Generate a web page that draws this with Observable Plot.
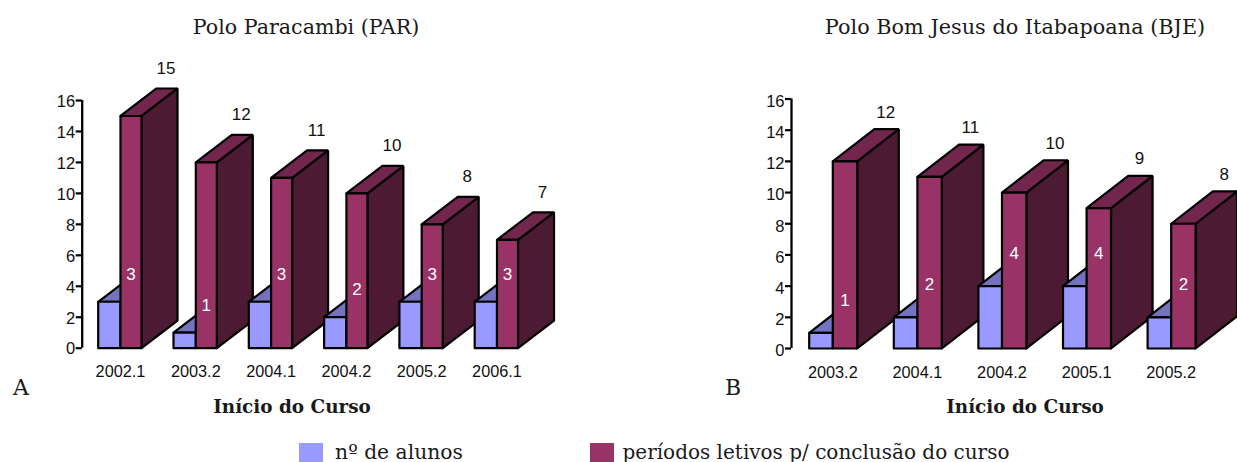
<!DOCTYPE html>
<html><head><meta charset="utf-8">
<script src="https://cdn.jsdelivr.net/npm/d3@7"></script>
<script src="https://cdn.jsdelivr.net/npm/@observablehq/plot@0.6"></script>
<style>
html,body{margin:0;padding:0;background:#fff;width:1237px;height:462px;overflow:hidden;position:relative}
.t{position:absolute;white-space:nowrap;font-family:"DejaVu Serif",serif;color:#1a1a1a;line-height:1;transform:translate(-50%,-50%)}
.p{position:absolute;top:0}
.sw{position:absolute;width:24px;height:20px;top:443px}
svg{background:transparent!important;overflow:visible}
</style></head><body>
<div id="root"></div>
<script>
const parCategories = ["2002.1","2003.2","2004.1","2004.2","2005.2","2006.1"];
const parStudents = [3,1,3,2,3,3];
const parPeriods = [15,12,11,10,8,7];
const bjeCategories = ["2003.2","2004.1","2004.2","2005.1","2005.2"];
const bjeStudents = [1,2,4,4,2];
const bjePeriods = [12,11,10,9,8];
const yTicks = [0,2,4,6,8,10,12,14,16];
const colors = {blue:"#9999ff",blueTop:"#7373bf",purple:"#993366",purpleTop:"#73264d",purpleSide:"#4d1a33"};

function panel({cats,students,periods,axisX,firstX,step,blueW,purpleW,depthX,y0,y16,left,width,height,tickDy,valueDy}){
  const unit=(y0-y16)/16;
  const dep=depthX.dy/unit, dx=depthX.dx;
  const bw=blueW, pw=purpleW;
  const faces=[];
  const face=(id,color,pts)=>{[...pts,pts[0]].forEach(([x,y])=>faces.push({id,color,x,y}));};
  cats.forEach((c,i)=>{
    const b=i, m=i+bw, r=i+bw+pw, s=students[i], p=periods[i];
    face(i+"bt",colors.blueTop,[[b,s],[m,s],[m+dx,s+dep],[b+dx,s+dep]]);
    face(i+"ps",colors.purpleSide,[[r,0],[r+dx,dep],[r+dx,p+dep],[r,p]]);
    face(i+"pt",colors.purpleTop,[[m,p],[r,p],[r+dx,p+dep],[m+dx,p+dep]]);
    face(i+"bf",colors.blue,[[b,0],[m,0],[m,s],[b,s]]);
    face(i+"pf",colors.purple,[[m,0],[r,0],[r,p],[m,p]]);
  });
  const dStart=(axisX-left-(firstX-left))/step;
  const dEnd=dStart+(width-(axisX-left))/step;
  const rows=cats.map((c,i)=>({c,i,s:students[i],p:periods[i]}));
  return Plot.plot({
    width,height,
    marginLeft:axisX-left,marginRight:0,marginTop:y16,marginBottom:height-y0,
    style:{background:"transparent",fontFamily:"'Liberation Sans',Arial,sans-serif"},
    x:{domain:[dStart,dEnd],axis:null},
    y:{domain:[0,16],axis:null},
    color:{type:"identity"},
    marks:[
      Plot.ruleX([dStart],{y1:0,y2:16,stroke:"#000",strokeWidth:2.3}),
      Plot.axisY({ticks:yTicks,anchor:"left",tickSize:6,fill:"none",stroke:"#000",strokeWidth:2.2,label:null}),
      Plot.text(yTicks,{x:dStart,y:d=>d,text:d=>String(d),textAnchor:"end",dx:-7,dy:tickDy,fontSize:16.5,fill:"#111"}),
      Plot.line(faces,{x:"x",y:"y",z:"id",fill:"color",stroke:"#000",strokeWidth:2.2,strokeLinejoin:"miter",curve:"linear"}),
      Plot.text(rows,{x:d=>d.i+bw,y:0,text:"c",dy:24,fontSize:16.3,fill:"#111"}),
      Plot.text(rows,{x:d=>d.i+bw+pw/2,y:d=>d.s+dep,text:d=>String(d.s),fontSize:17,fill:"#fff"}),
      Plot.text(rows,{x:d=>d.i+bw+depthX.lab,y:d=>d.p+dep,text:d=>String(d.p),dy:valueDy,fontSize:17,fill:"#111"})
    ]
  });
}
const root=document.getElementById("root");
const a=panel({cats:parCategories,students:parStudents,periods:parPeriods,axisX:81.7,firstX:97.7,step:75.3,blueW:22.3/75.3,purpleW:21/75.3,
  depthX:{dx:36/75.3,dy:27.5,lab:45.5/75.3},y0:347.7,y16:100,left:0,width:640,height:395,tickDy:1,valueDy:-20});
a.classList.add("p");a.style.left="0px";root.append(a);
const b=panel({cats:bjeCategories,students:bjeStudents,periods:bjePeriods,axisX:791,firstX:808.7,step:84.6,blueW:23.6/84.6,purpleW:24.4/84.6,
  depthX:{dx:41.6/84.6,dy:32.3,lab:53/84.6},y0:348,y16:98.5,left:640,width:597,height:395,tickDy:2.5,valueDy:-17});
b.classList.add("p");b.style.left="640px";root.append(b);
const txt=(s,x,y,fs,extra={})=>{const d=document.createElement("div");d.className="t";d.textContent=s;d.style.left=x+"px";d.style.top=y+"px";d.style.fontSize=fs+"px";Object.assign(d.style,extra);root.append(d);};
txt("Polo Paracambi (PAR)",306,27,20.6);
txt("Polo Bom Jesus do Itabapoana (BJE)",1015,27,20.8);
txt("A",21,388,22);
txt("B",733,388,22);
txt("Início do Curso",292,407,18.4,{fontWeight:"bold"});
txt("Início do Curso",1025,407,18.4,{fontWeight:"bold"});
txt("nº de alunos",399,452,20.3);
txt("períodos letivos p/ conclusão do curso",816,452,20);
[[299,colors.blue],[590,colors.purple]].forEach(([x,c])=>{const s=document.createElement("div");s.className="sw";s.style.left=x+"px";s.style.background=c;root.append(s);});
</script>
</body></html>
